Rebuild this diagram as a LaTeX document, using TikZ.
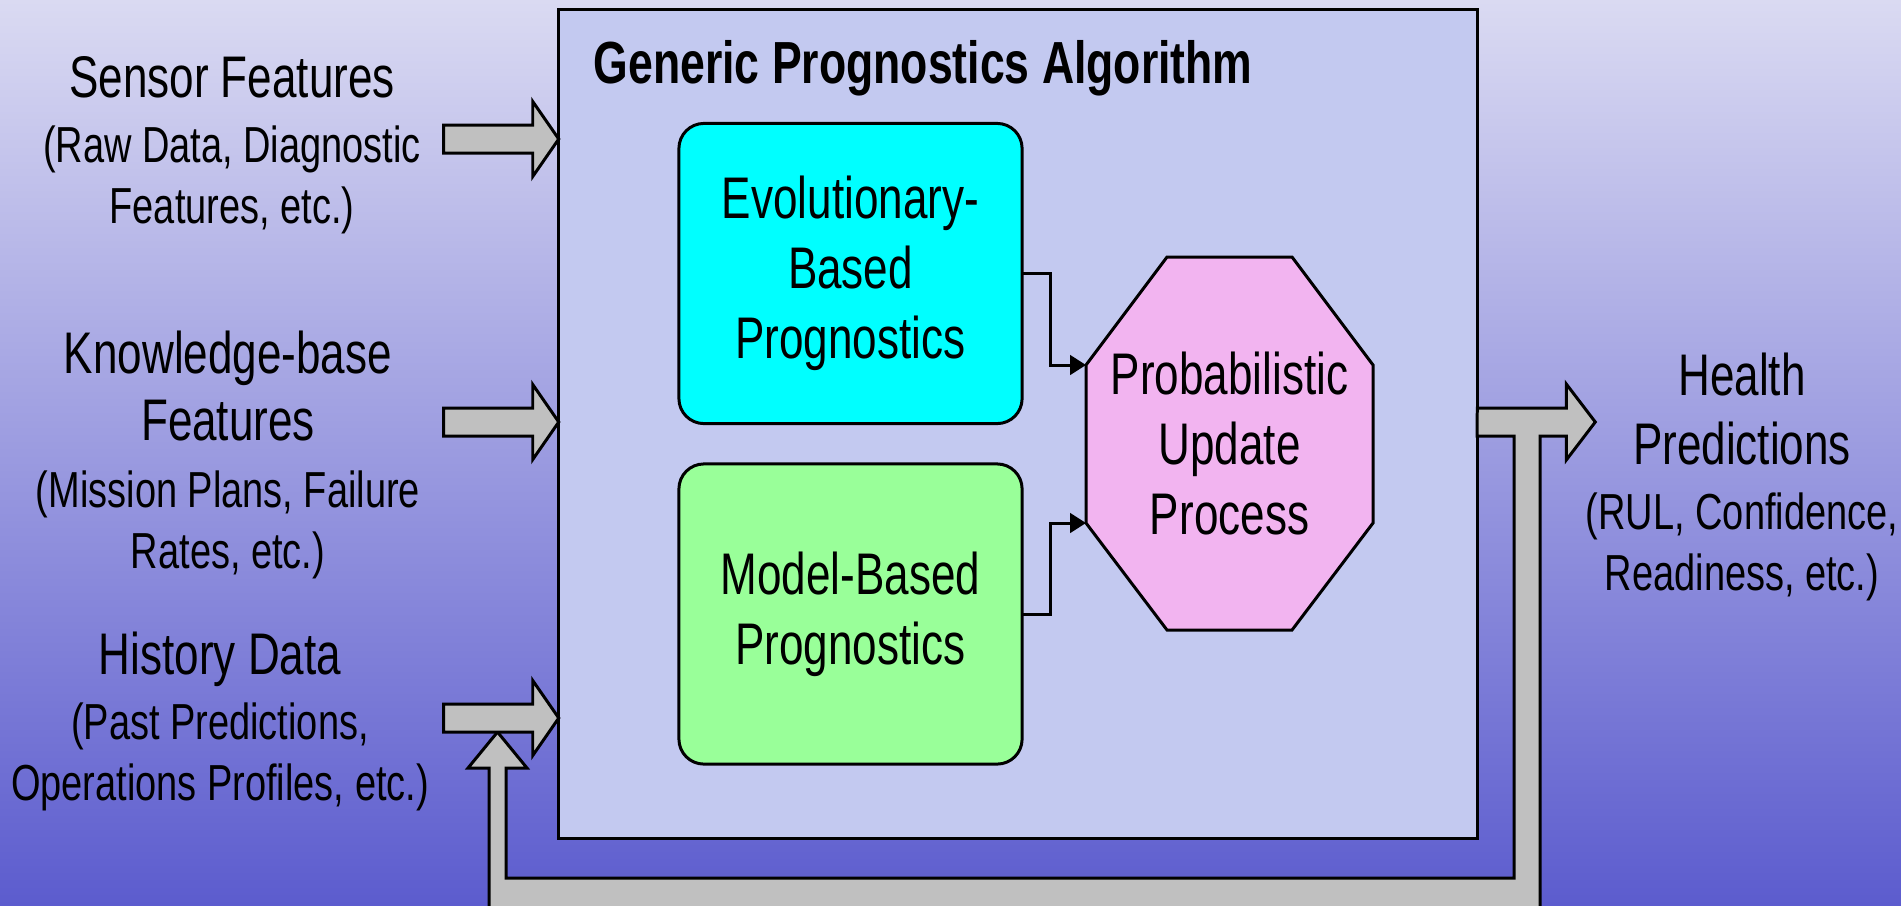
\documentclass[tikz,border=0pt]{standalone}
\usepackage{fontspec}
\setmainfont[FakeStretch=0.75]{Liberation Sans}
\usetikzlibrary{arrows.meta,calc}

\definecolor{bgtop}{RGB}{218,218,242}
\definecolor{bgbot}{RGB}{92,92,206}
\definecolor{panel}{RGB}{195,201,240}
\definecolor{evocol}{RGB}{0,255,255}
\definecolor{modcol}{RGB}{153,255,153}
\definecolor{updcol}{RGB}{242,180,240}
\definecolor{arrowgray}{RGB}{192,192,192}

\newcommand\bigtxt{\fontsize{16.7}{19.9}\selectfont}
\newcommand\smalltxt{\fontsize{14.4}{17.3}\selectfont}
\newcommand\ttltxt{\fontsize{16.9}{20}\selectfont\bfseries}

\begin{document}
\begin{tikzpicture}[x=0.01cm,y=-0.01cm,
  outline/.style={line width=0.85pt, draw=black},
  blockarrow/.style={outline, fill=arrowgray, line join=miter},
  panelbox/.style={outline, fill=panel, inner sep=0, outer sep=0,
    minimum width=9.18cm, minimum height=8.28cm},
  algobox/.style={outline, rounded corners=0.25cm, inner sep=0, outer sep=0,
    minimum width=3.43cm, minimum height=3.0cm, align=center, font=\bigtxt},
  sidelabel/.style={align=center, inner sep=0, font=\smalltxt, anchor=north},
  conn/.style={line width=0.85pt, -{Triangle[length=4.5pt,width=5.5pt]}},
]
\useasboundingbox (0,0) rectangle (1901,905);
\clip (0,0) rectangle (1901,905);

% background
\shade[top color=bgtop, bottom color=bgbot] (0,0) rectangle (1901,905);

% algorithm panel
\node[panelbox] (main) at (1018,424) {};
\node[anchor=base west, inner sep=0, font=\ttltxt] (title) at (593,83)
  {Generic Prognostics Algorithm};

% prognostics blocks
\node[algobox, fill=evocol] (evo) at (850.5,273.5)
  {Evolutionary-\\Based\\Prognostics};
\node[algobox, fill=modcol] (model) at (850.5,614)
  {Model-Based\\Prognostics};

% probabilistic update octagon
\path[outline, fill=updcol] (1167,257) -- (1292,257) -- (1373,365) -- (1373,523)
  -- (1292,630) -- (1167,630) -- (1086,523) -- (1086,365) -- cycle;
\coordinate (updUL) at (1086,365);
\coordinate (updLL) at (1086,523);
\node[font=\bigtxt, align=center, inner sep=0] (upd) at (1229.5,443.5)
  {Probabilistic\\Update\\Process};

% connectors into the update process
\coordinate (bend) at (1050,0);
\draw[conn] (evo.east) -- (evo.east -| bend) |- (updUL);
\draw[conn] (model.east) -- (model.east -| bend) |- (updLL);

% output arrow with feedback loop
\coordinate (outS) at (main.east |- 0,422);
\draw[blockarrow] (outS) ++(0,-14) -- ++(89,0) -- ++(0,-24) -- ++(29,38)
  -- ++(-29,38) -- ++(0,-24) -- (1540,436) -- (1540,912) -- (489,912)
  -- (489,768) -- (468,768) -- (497.5,732) -- (527,768) -- (506,768)
  -- (506,878) -- (1514,878) -- (1514,436) -- (1477,436) -- cycle;

% input arrows
\coordinate (inA) at (main.west |- 0,139);
\coordinate (inB) at (main.west |- 0,422);
\coordinate (inC) at (main.west |- 0,718);
\foreach \c in {inA,inB,inC}{
  \draw[blockarrow] (\c) -- ++(-26,-37.5) -- ++(0,23.5) -- ++(-89,0)
    -- ++(0,28) -- ++(89,0) -- ++(0,23.5) -- cycle;
}

% input and output labels
\node[sidelabel] (sensor) at (232,56)
  {{\bigtxt Sensor Features}\\[1.2pt](Raw Data, Diagnostic\\Features, etc.)};
\node[sidelabel] (knowledge) at (228,330)
  {{\bigtxt Knowledge-base}\\[1.8pt]{\bigtxt Features}\\[1.8pt](Mission Plans, Failure\\Rates, etc.)};
\node[sidelabel] (history) at (220,631)
  {{\bigtxt History Data}\\[1.2pt](Past Predictions,\\Operations Profiles, etc.)};
\node[sidelabel] (health) at (1742,352)
  {{\bigtxt Health}\\[2.3pt]{\bigtxt Predictions}\\[1.2pt](RUL, Confidence,\\Readiness, etc.)};
\end{tikzpicture}
\end{document}
